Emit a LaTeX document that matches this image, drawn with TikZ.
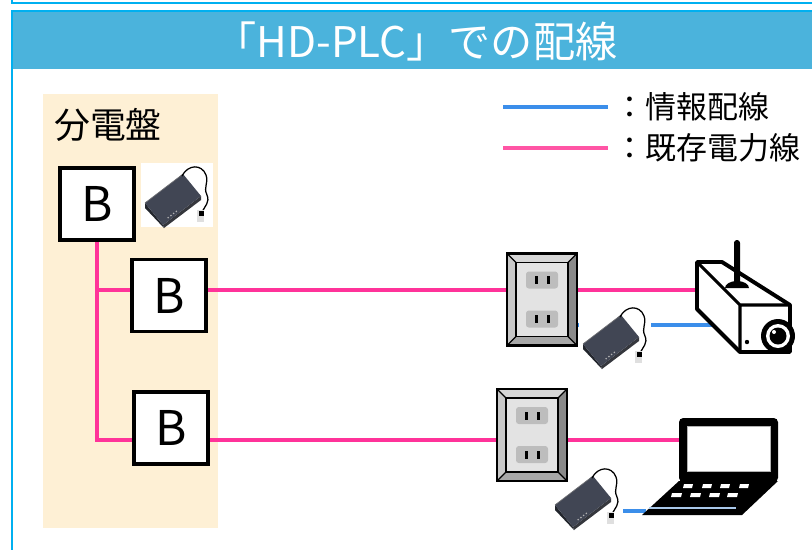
\documentclass[tikz,border=0pt]{standalone}
\usepackage{fontspec}
\setmainfont{Noto Sans CJK JP}
\usetikzlibrary{positioning, backgrounds, calc}
\definecolor{frameCyan}{HTML}{00B0F0}
\definecolor{titleBlue}{HTML}{4BB3DC}
\definecolor{panelBeige}{HTML}{FEF0D5}
\definecolor{wirePink}{HTML}{FF3399}
\definecolor{keyPink}{HTML}{FF55A5}
\definecolor{lanBlue}{HTML}{3B8EEA}
\definecolor{devTop}{HTML}{414654}
\definecolor{devSide}{HTML}{22252C}
\definecolor{bevelTop}{HTML}{D6D6D6}
\definecolor{bevelLeft}{HTML}{C8C8C8}
\definecolor{bevelRight}{HTML}{8A8A8A}
\definecolor{bevelLow}{HTML}{A8A8A8}
\definecolor{faceGray}{HTML}{E3E3E3}
\definecolor{sockGray}{HTML}{BDBDBD}
\definecolor{stripeBlue}{HTML}{A9C8EA}

\tikzset{
  brk/.style={draw, line width=2.8pt, fill=white, minimum width=1.85cm, minimum height=1.8cm,
    inner sep=0pt, font=\fontsize{34}{34}\selectfont},
  power/.style={wirePink, line width=2.8pt},
  lan/.style={lanBlue, line width=2.8pt},
  keytext/.style={anchor=west, inner sep=0pt, text=black, font=\fontsize{22}{22}\selectfont},
  % wall socket, two outlets
  pics/outlet/.style={code={
    \node[minimum width=1.75cm, minimum height=2.3cm, inner sep=0pt] (-body) at (0,0) {};
    \fill[bevelTop] (-35,-46) -- (35,-46) -- (26,-37) -- (-26,-37) -- cycle;
    \fill[bevelLeft] (-35,-46) -- (-26,-37) -- (-26,37) -- (-35,46) -- cycle;
    \fill[bevelRight] (35,-46) -- (35,46) -- (26,37) -- (26,-37) -- cycle;
    \fill[bevelLow] (-35,46) -- (35,46) -- (26,37) -- (-26,37) -- cycle;
    \draw[line width=0.8pt, fill=faceGray] (-26,-37) rectangle (26,37);
    \draw[line width=0.8pt] (-35,-46) -- (-26,-37) (35,-46) -- (26,-37)
      (35,46) -- (26,37) (-35,46) -- (-26,37);
    \draw[line width=1.6pt] (-35,-46) rectangle (35,46);
    \foreach \sy in {-19.5,19.5} {
      \fill[sockGray, rounded corners=2pt] (-16,\sy-8.5) rectangle (16,\sy+8.5);
      \fill (-7,\sy-4) rectangle (-4,\sy+4);
      \fill (5,\sy-4) rectangle (8,\sy+4);
    }
  }},
  % PLC adapter with its cord
  pics/plcadapter/.style={code={
    \node[fill=white, minimum width=1.8cm, minimum height=1.6cm, inner sep=0pt] (-bg) at (0,0) {};
    \fill[devSide] (-32,8) -- (-14,30) -- (-13,33) -- (-32,13) -- cycle;
    \fill[devSide!80!gray] (-14,30) -- (24,1) -- (24,5) -- (-13,33) -- cycle;
    \fill[devTop] (-32,8) -- (6,-21) -- (24,1) -- (-14,30) -- cycle;
    \draw[gray!70!devTop, line width=0.5pt] (-32,8) -- (6,-21);
    \foreach \t in {0.15,0.28,0.41,0.54}
      \fill[gray!60] ($(-12,25)!\t!(9,9)$) circle[radius=0.9];
    \draw[line width=0.9pt] (5,-19) .. controls (11,-31) and (25,-31) .. (29,-20)
      .. controls (32,-12) and (26,-8) .. (30,0) .. controls (33,7) and (28,11) .. (25,17);
    \fill[gray!25] (20,15) rectangle (27,27);
    \fill (22,16) rectangle (27,21);
  }},
  pics/camera/.style={code={
    \draw[line width=2.8pt, fill=white, line join=round] (-48,-38) -- (-23,-38) -- (45,5)
      -- (45,52) -- (-5,52) -- (-48,9) -- cycle;
    \draw[line width=2.2pt] (-48,-38) -- (-5,5) -- (45,5) (-5,5) -- (-5,52);
    \fill[rounded corners=2pt] (-11,-60) rectangle (-5,-14);
    \fill (-20,-12) arc[start angle=180, end angle=360, x radius=12, y radius=7] -- cycle;
    \fill (33,36) circle[radius=17];
    \fill[white] (33,36) circle[radius=12];
    \fill (33,36) circle[radius=8.5];
    \fill[white] (29,32) circle[radius=2];
    \fill (2,42) circle[radius=2.2];
    \coordinate (-pwr) at (-48,-10);
    \coordinate (-lan) at (-32,25);
  }},
  pics/laptop/.style={code={
    \fill[rounded corners=3pt] (-41,-52) rectangle (58,12);
    \draw[gray!60, fill=white, line width=0.6pt] (-33,-44) rectangle (50,1);
    \fill (-41,11) -- (58,11) -- (22,45) -- (-78,45) -- cycle;
    \foreach \kx in {-36,-17,1,20}
      \fill[white] (\kx,14) -- (\kx+9,14) -- (\kx+8,18) -- (\kx-1,18) -- cycle;
    \foreach \kx in {-48,-29,-10,8}
      \fill[white] (\kx,23) -- (\kx+10,23) -- (\kx+9,27) -- (\kx-1,27) -- cycle;
    \draw[stripeBlue, line width=1pt] (-71,38) -- (16,38);
    \coordinate (-pwr) at (-41,-30);
    \coordinate (-lan) at (-74,41);
  }},
}

\begin{document}
\begin{tikzpicture}[x=0.025cm, y=-0.025cm]
  \useasboundingbox (0,0) rectangle (812,549);

  \begin{scope}[on background layer]
    \fill[white] (0,0) rectangle (812,549);
    \fill[titleBlue] (12,11) rectangle (820,69);
    \draw[frameCyan, line width=1.6pt] (12,-5) -- (12,3) -- (820,3);
    \draw[frameCyan, line width=1.6pt] (12,560) -- (12,11) -- (820,11);
    \fill[panelBeige] (43,94) rectangle (218,528);
  \end{scope}

  \node[text=white, font=\fontsize{30}{30}\selectfont] (title) at (416,41) {「HD-PLC」での配線};
  \node[anchor=west, inner sep=0pt, font=\fontsize{25.5}{26}\selectfont] (panel) at (54,125) {分電盤};

  % legend
  \draw[lan] (503,107) -- (608,107) node[keytext] (keyLan) at (613,107) {：情報配線};
  \draw[keyPink, line width=2.8pt] (503,148) -- (608,148) node[keytext] (keyPwr) at (613,148) {：既存電力線};

  % breakers
  \node[brk] (b1) at (97,204) {B};
  \node[brk] (b2) at (169,295.5) {B};
  \node[brk] (b3) at (171,428) {B};

  \pic (a1) at (177,195) {plcadapter};
  \pic (a2) at (615,336) {plcadapter};
  \pic (a3) at (587,497) {plcadapter};
  \pic (o1) at (542,299.5) {outlet};
  \pic (o2) at (532,435) {outlet};
  \pic (cam) at (745,300) {camera};
  \pic (pc) at (720,470) {laptop};

  \begin{scope}[on background layer]
    \draw[power] (b1.south) |- (b3.west |- pc-pwr);
    \draw[power] (b1.south |- cam-pwr) -- (b2.west |- cam-pwr);
    \draw[power] (b2.east |- cam-pwr) -- (o1-body.west |- cam-pwr);
    \draw[power] (o1-body.east |- cam-pwr) -- (cam-pwr);
    \draw[power] (b3.east |- pc-pwr) -- (o2-body.west |- pc-pwr);
    \draw[power] (o2-body.east |- pc-pwr) -- (pc-pwr);
    \draw[lan] (o1-body.east |- cam-lan) -- (cam-lan);
    \draw[lan] (a3-bg.east |- pc-lan) -- (pc-lan);
  \end{scope}
\end{tikzpicture}
\end{document}
